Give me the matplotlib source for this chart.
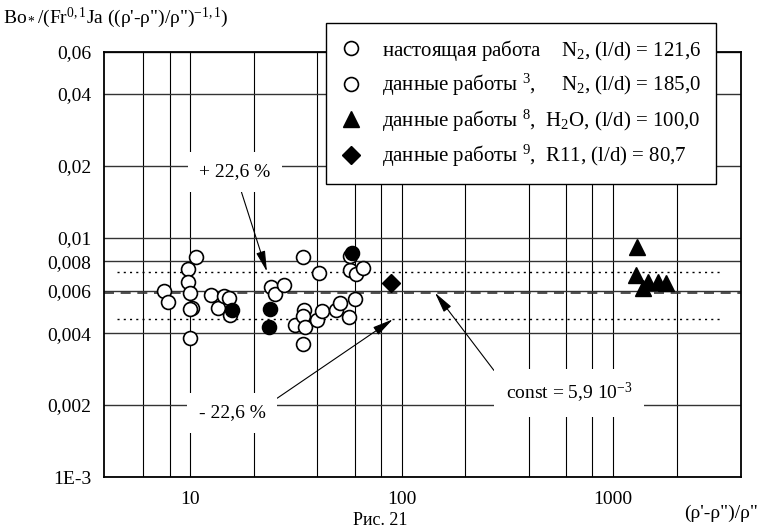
import numpy as np
import matplotlib
matplotlib.use("Agg")
import matplotlib.pyplot as plt
from matplotlib.lines import Line2D

# шрифт как в оригинале (Times)
plt.rcParams['font.family'] = ['Liberation Serif', 'DejaVu Serif']
plt.rcParams['mathtext.fontset'] = 'custom'
plt.rcParams['mathtext.rm'] = 'Liberation Serif'
plt.rcParams['mathtext.it'] = 'Liberation Serif:italic'
plt.rcParams['axes.unicode_minus'] = False

# настоящая работа / данные работы 3 (открытые кружки)
open_x = [7.54, 7.90, 9.82, 9.82, 10.0, 10.7, 10.2, 10.0, 10.0, 12.5, 13.5, 14.5, 15.3, 15.5,
          24.1, 25.2, 27.7, 34.4, 40.8, 31.4, 34.6, 34.1, 35.0, 34.1, 39.7, 41.9, 49.2, 51.2,
          56.6, 57.1, 60.9, 60.6, 65.6, 57.1]
open_y = [0.00600, 0.00538, 0.00740, 0.00653, 0.00587, 0.00830, 0.00511, 0.00503, 0.00380,
          0.00577, 0.00511, 0.00572, 0.00559, 0.00476, 0.00622, 0.00581, 0.00638, 0.00830,
          0.00712, 0.00432, 0.00500, 0.00472, 0.00426, 0.00359, 0.00452, 0.00496, 0.00498,
          0.00536, 0.00469, 0.00738, 0.00707, 0.00554, 0.00747, 0.00841]
# закрашенные кружки
fill_x = [15.85, 23.9, 23.7, 58.3]
fill_y = [0.00500, 0.00503, 0.00423, 0.00863]
# данные работы 8, H2O
h2o_x = [1294, 1284, 1390, 1468, 1637, 1780]
h2o_y = [0.00920, 0.00700, 0.00616, 0.00656, 0.00656, 0.00650]
# данные работы 9, R11
r11_x = [88.9]
r11_y = [0.00646]

const = 5.9e-3
dev = 0.226
dot_x = [4.5, 3270]

yticks = [0.001, 0.002, 0.004, 0.006, 0.008, 0.01, 0.02, 0.04, 0.06]
ylabels = ['1E-3', '0,002', '0,004', '0,006', '0,008', '0,01', '0,02', '0,04', '0,06']
xticks = [10, 100, 1000]
xminor = [6, 8, 20, 40, 60, 80, 200, 400, 600, 800, 2000]

fig = plt.figure(figsize=(7.58, 5.30), dpi=100)
ax = fig.add_axes([104 / 758, 53 / 530, 637 / 758, 425 / 530])
ax.set_xscale('log')
ax.set_yscale('log')
ax.set_xlim(3.92, 4030)
ax.set_ylim(0.001, 0.06)

ax.set_yticks(yticks)
ax.set_yticklabels(ylabels)
ax.yaxis.set_minor_locator(matplotlib.ticker.NullLocator())
ax.set_xticks(xticks)
ax.set_xticklabels(['10', '100', '1000'])
ax.set_xticks(xminor, minor=True)
ax.xaxis.set_minor_formatter(matplotlib.ticker.NullFormatter())
ax.tick_params(which='both', length=0, labelsize=14)
ax.tick_params(axis='y', pad=9)
ax.tick_params(axis='x', pad=10)

ax.grid(True, axis='x', which='both', color='black', lw=0.8, zorder=0)
ax.grid(True, axis='y', which='major', color='#333333', lw=1.0, zorder=0)
ax.set_axisbelow(True)
for s in ax.spines.values():
    s.set_linewidth(1.3)

ax.axhline(const, color='#333333', lw=1.2, ls=(0, (6, 4)), zorder=1)
ax.plot(dot_x, [const * (1 + dev)] * 2, color='black', lw=1.0, ls=(0, (1.5, 3)), zorder=1)
ax.plot(dot_x, [const * (1 - dev)] * 2, color='black', lw=1.0, ls=(0, (1.5, 3)), zorder=1)

ax.plot(open_x, open_y, 'o', ms=10, mfc='white', mec='black', mew=1.2, zorder=3)
ax.plot(fill_x, fill_y, 'o', ms=10, mfc='black', mec='black', mew=1.2, zorder=4)
ax.plot(h2o_x, h2o_y, '^', ms=11, mfc='black', mec='black', zorder=4)
ax.plot(r11_x, r11_y, 'D', ms=9, mfc='black', mec='black', zorder=4)

box = dict(boxstyle='square,pad=0.6', fc='white', ec='none')
arr = dict(arrowstyle='-|>,head_length=0.9,head_width=0.2', color='black', lw=0.8, shrinkA=0, shrinkB=0)
ax.annotate('+ 22,6 %', xy=(23.1, const * (1 + dev)), xytext=(0.2057, 0.7176),
            textcoords='axes fraction', ha='center', va='center', fontsize=14,
            bbox=box, arrowprops=arr, zorder=5)
ax.annotate('- 22,6 %', xy=(91, const * (1 - dev)), xytext=(0.201, 0.1506),
            textcoords='axes fraction', ha='center', va='center', fontsize=14,
            bbox=box, arrowprops=dict(arr, relpos=(1.0, 0.9)), zorder=5)
ax.annotate('const = 5,9 10$^{-3}$', xy=(144, const), xytext=(0.730, 0.1976),
            textcoords='axes fraction', ha='center', va='center', fontsize=14,
            bbox=box, arrowprops=dict(arr, relpos=(0.0, 0.8)), zorder=5)

handles = [
    Line2D([], [], ls='none', marker='o', ms=10, mfc='white', mec='black', mew=1.2),
    Line2D([], [], ls='none', marker='o', ms=10, mfc='white', mec='black', mew=1.2),
    Line2D([], [], ls='none', marker='^', ms=11, mfc='black', mec='black'),
    Line2D([], [], ls='none', marker='D', ms=9, mfc='black', mec='black'),
]
labels = [
    'настоящая работа    N$_2$, (l/d) = 121,6',
    'данные работы $^3$,     N$_2$, (l/d) = 185,0',
    'данные работы $^8$,  H$_2$O, (l/d) = 100,0',
    'данные работы $^9$,  R11, (l/d) = 80,7',
]
leg = ax.legend(handles, labels, loc='upper left', bbox_to_anchor=(0.3485, 1.068),
                fontsize=15, frameon=True, fancybox=False, edgecolor='black',
                framealpha=1, handlelength=1.0, handletextpad=1.0, labelspacing=0.45,
                borderpad=0.7, borderaxespad=0)
leg.get_frame().set_linewidth(1.0)
leg.set_zorder(6)

fig.text(3 / 758, 1 - 18 / 530, 'Bo$_*$/(Fr$^{0,1}$Ja ((ρ\'-ρ")/ρ")$^{-1,1}$)',
         ha='left', va='center', fontsize=14)
fig.text(1.0, 1 - 513 / 530, '(ρ\'-ρ")/ρ"', ha='right', va='center', fontsize=14)
fig.text(380 / 758, 1 / 530, 'Рис. 21', ha='center', va='bottom', fontsize=13)

fig.savefig('out.png', dpi=100)
